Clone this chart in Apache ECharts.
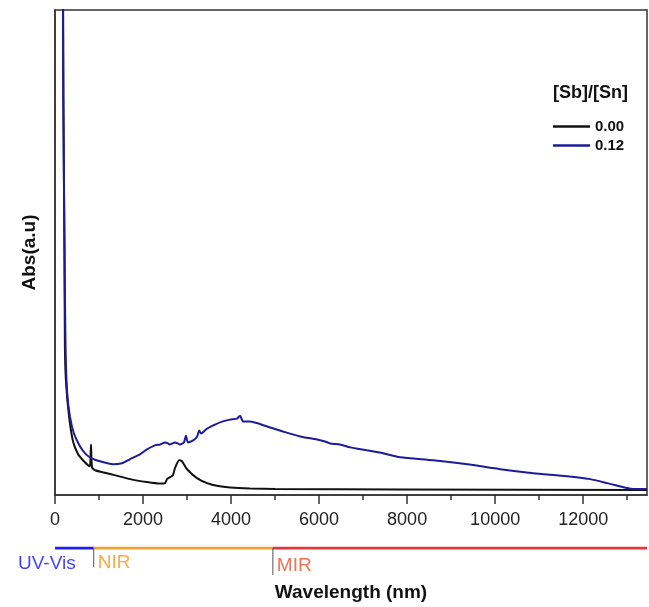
<!DOCTYPE html>
<html>
<head>
<meta charset="utf-8">
<script src="https://cdn.jsdelivr.net/npm/echarts@6/dist/echarts.min.js"></script>
<style>
  html, body { margin: 0; padding: 0; background: #fff; }
  #chart { width: 649px; height: 607px; }
</style>
</head>
<body>
<div id="chart"></div>
<script>
// Absorbance spectra of two [Sb]/[Sn] compositions, UV-Vis to MIR.

// [Sb]/[Sn] = 0.00
const wl000 = [180, 190, 215, 225, 250, 320, 410, 525, 635, 750, 795, 818, 840, 910, 1180,
  1705, 2090, 2385, 2500, 2545, 2615, 2680, 2725, 2820, 2885, 3000, 3225, 3455, 3705, 3975,
  4430, 5000, 7840, 13450];
const abs000 = [5.49, 3.99, 2.49, 1.49, 1.14, 0.79, 0.54, 0.41, 0.35, 0.30, 0.29, 0.51, 0.28, 0.25, 0.22,
  0.16, 0.13, 0.115, 0.12, 0.16, 0.18, 0.20, 0.27, 0.35, 0.34, 0.26, 0.17, 0.12, 0.09, 0.075,
  0.065, 0.06, 0.055, 0.05];

// [Sb]/[Sn] = 0.12
const wl012 = [180, 190, 215, 240, 275, 340, 430, 570, 705, 840, 1020, 1320, 1520, 1700, 1930,
  2090, 2270, 2390, 2500, 2570, 2610, 2730, 2840, 2930, 2975, 3020, 3140, 3230, 3275, 3320,
  3455, 3635, 3795, 3975, 4135, 4205, 4275, 4430, 4820, 5180, 5570, 5955, 6135, 6250, 6475,
  6705, 7090, 7455, 7840, 8590, 9365, 10115, 10865, 11635, 12160, 12545, 13000, 13135, 13450];
const abs012 = [5.49, 3.99, 2.49, 1.49, 1.04, 0.79, 0.62, 0.49, 0.41, 0.37, 0.34, 0.31, 0.32, 0.36, 0.41,
  0.46, 0.50, 0.51, 0.53, 0.52, 0.51, 0.53, 0.51, 0.53, 0.60, 0.53, 0.55, 0.59, 0.65, 0.62,
  0.67, 0.71, 0.74, 0.76, 0.77, 0.80, 0.74, 0.74, 0.69, 0.64, 0.59, 0.56, 0.54, 0.52, 0.51,
  0.48, 0.45, 0.42, 0.38, 0.35, 0.31, 0.26, 0.22, 0.19, 0.16, 0.12, 0.07, 0.06, 0.06];

const seriesNames = ['0.00', '0.12'];
const legendTitle = '[Sb]/[Sn]';

// x axis range and ticks (nm)
const xMin = 0;
const xMax = 13450;
const majorTicks = [0, 2000, 4000, 6000, 8000, 10000, 12000];
const minorTicks = [1000, 3000, 5000, 7000, 9000, 11000, 13000];
const yMax = 4.89;

// spectral regions (nm)
const bandNames = ['UV-Vis', 'NIR', 'MIR'];
const bandStart = [0, 880, 4950];
const bandEnd = [880, 4950, 13450];

// ---- styling ----
const FONT = '"Liberation Sans", Arial, Helvetica, sans-serif';
const lineColors = ['#111111', '#1c1c9a'];
const bandLineColors = ['#1e1ef5', '#f5a033', '#e8373a'];
const bandTextColors = ['#1010ff', '#f7941d', '#e8502a'];
const bandLabelOffsets = [[-37, 16], [4, 15], [4, 18]];
const separatorDepth = [0, 19, 27];

const pairs = (xs, ys) => xs.map((x, i) => [x, ys[i]]);

const bandSeries = [];
bandNames.forEach((name, i) => {
  bandSeries.push({
    type: 'line', xAxisIndex: 2, yAxisIndex: 1, silent: true,
    symbol: 'none', animation: false,
    lineStyle: { color: bandLineColors[i], width: 3 },
    data: [[bandStart[i], 0], [bandEnd[i], 0]]
  });
  if (separatorDepth[i] > 0) {
    bandSeries.push({
      type: 'line', xAxisIndex: 2, yAxisIndex: 1, silent: true,
      symbol: 'none', animation: false,
      lineStyle: { color: '#555', width: 1 },
      data: [[bandStart[i], 0], [bandStart[i], -separatorDepth[i]]]
    });
  }
});
bandSeries.push({
  type: 'scatter', xAxisIndex: 2, yAxisIndex: 1, silent: true,
  symbolSize: 0, animation: false,
  data: bandNames.map((name, i) => ({
    value: [bandStart[i], 0],
    label: {
      show: true, position: 'right', distance: 0,
      offset: bandLabelOffsets[i],
      formatter: name,
      color: bandTextColors[i],
      fontSize: 19, fontFamily: FONT
    }
  }))
});

const chart = echarts.init(document.getElementById('chart'), null, { renderer: 'canvas' });

chart.setOption({
  backgroundColor: '#ffffff',
  animation: false,
  title: {
    text: legendTitle,
    left: 548, top: 79,
    textStyle: { fontFamily: FONT, fontSize: 18, fontWeight: 'bold', color: '#111' }
  },
  legend: {
    orient: 'vertical',
    left: 548, top: 114,
    icon: 'rect',
    itemWidth: 37, itemHeight: 2.5, itemGap: 4,
    textStyle: { fontFamily: FONT, fontSize: 15, fontWeight: 'bold', color: '#111' },
    data: seriesNames
  },
  grid: [
    { left: 55, right: 2, top: 10, height: 489, show: true,
      borderColor: '#333', borderWidth: 1.5, backgroundColor: 'transparent' },
    { left: 55, right: 2, top: 548, height: 30 }
  ],
  xAxis: [
    {
      type: 'value', gridIndex: 0, min: xMin, max: xMax,
      name: 'Wavelength (nm)', nameLocation: 'middle', nameGap: 88,
      nameTextStyle: { fontFamily: FONT, fontSize: 19, fontWeight: 'bold', color: '#111' },
      axisLine: { show: true, lineStyle: { color: '#333', width: 1.5 } },
      axisTick: { show: true, customValues: majorTicks, length: 9, lineStyle: { color: '#333', width: 1.5 } },
      axisLabel: {
        customValues: majorTicks, margin: 16, fontFamily: FONT, fontSize: 18, color: '#222',
        formatter: (v) => String(v)
      },
      splitLine: { show: false }
    },
    {
      type: 'value', gridIndex: 0, min: xMin, max: xMax, position: 'bottom',
      axisLine: { show: false },
      axisTick: { show: true, customValues: minorTicks, length: 5, lineStyle: { color: '#333', width: 1.5 } },
      axisLabel: { show: false },
      splitLine: { show: false }
    },
    {
      type: 'value', gridIndex: 1, min: xMin, max: xMax, show: false
    }
  ],
  yAxis: [
    {
      type: 'value', gridIndex: 0, min: 0, max: yMax,
      name: 'Abs(a.u)', nameLocation: 'middle', nameGap: 16,
      nameTextStyle: { fontFamily: FONT, fontSize: 19, fontWeight: 'bold', color: '#111' },
      axisLine: { show: true, lineStyle: { color: '#333', width: 1.5 } },
      axisTick: { show: false },
      axisLabel: { show: false },
      splitLine: { show: false }
    },
    { type: 'value', gridIndex: 1, min: -30, max: 0, show: false }
  ],
  series: [
    {
      name: seriesNames[0], type: 'line', xAxisIndex: 0, yAxisIndex: 0,
      symbol: 'none', smooth: 0.2,
      lineStyle: { color: lineColors[0], width: 2 },
      itemStyle: { color: lineColors[0] },
      data: pairs(wl000, abs000)
    },
    {
      name: seriesNames[1], type: 'line', xAxisIndex: 0, yAxisIndex: 0,
      symbol: 'none', smooth: 0.2,
      lineStyle: { color: lineColors[1], width: 2 },
      itemStyle: { color: lineColors[1] },
      data: pairs(wl012, abs012)
    }
  ].concat(bandSeries)
});
</script>
</body>
</html>
